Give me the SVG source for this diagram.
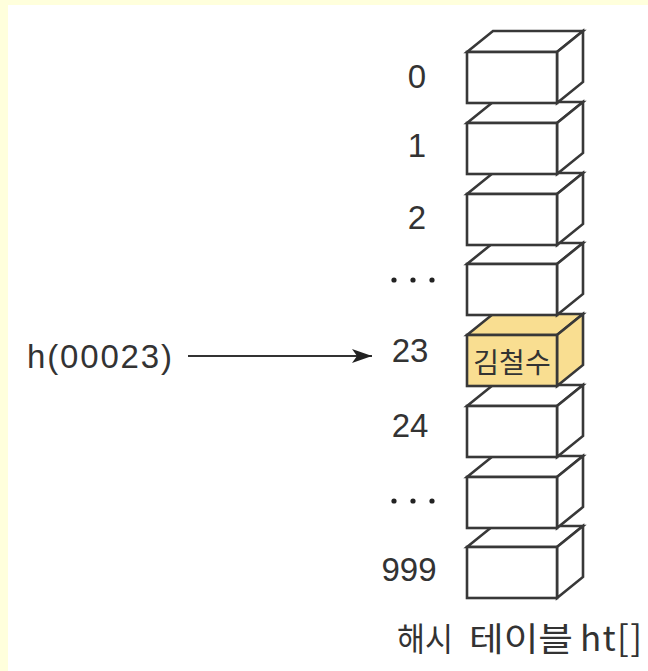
<svg xmlns="http://www.w3.org/2000/svg" width="648" height="671" viewBox="0 0 648 671">
<defs>
<style>
.face{fill:#ffffff;stroke:#383838;stroke-width:2.6;stroke-linejoin:miter}
.hl .face{fill:#f9de91}
.lbl{font-family:"Liberation Sans",Arial,sans-serif;font-size:33px;fill:#333333;text-anchor:middle}
.kr{font-family:"Noto Sans CJK KR","Noto Sans",sans-serif;fill:#333333}
.dot{fill:#222222}
</style>
<marker id="ah" markerWidth="22" markerHeight="16" refX="20" refY="7" orient="auto" markerUnits="userSpaceOnUse">
<path d="M0,0 L20,7 L0,14 L5,7 Z" fill="#222222"/>
</marker>
<g id="box">
<polygon class="face" points="0,0 26,-21 116,-21 90,0"/>
<polygon class="face" points="90,0 116,-21 116,30 90,51"/>
<rect class="face" x="0" y="0" width="90" height="51"/>
</g>
</defs>
<rect x="0" y="0" width="648" height="671" fill="#ffffff"/>
<rect x="0" y="0" width="648" height="5" fill="#ffffdc"/>
<rect x="0" y="0" width="8" height="671" fill="#ffffdc"/>

<g id="node-999"><use href="#box" x="467" y="547"/><text class="lbl" x="409" y="581">999</text></g>
<g id="node-dots2"><use href="#box" x="467" y="477"/><circle class="dot" cx="394" cy="501" r="2.6"/><circle class="dot" cx="413" cy="501" r="2.6"/><circle class="dot" cx="432" cy="501" r="2.6"/></g>
<g id="node-24"><use href="#box" x="467" y="406"/><text class="lbl" x="410" y="437">24</text></g>
<g id="node-23" class="hl"><g transform="translate(467,335)"><polygon class="face" points="0,0 26,-21 116,-21 90,0"/><polygon class="face" points="90,0 116,-21 116,30 90,51"/><rect class="face" x="0" y="0" width="90" height="51"/></g><text class="kr" x="512" y="373" font-size="28" text-anchor="middle">김철수</text><text class="lbl" x="410" y="362">23</text></g>
<g id="node-dots1"><use href="#box" x="467" y="264"/><circle class="dot" cx="394" cy="280" r="2.6"/><circle class="dot" cx="413" cy="280" r="2.6"/><circle class="dot" cx="432" cy="280" r="2.6"/></g>
<g id="node-2"><use href="#box" x="467" y="194"/><text class="lbl" x="417" y="229">2</text></g>
<g id="node-1"><use href="#box" x="467" y="123"/><text class="lbl" x="417" y="157">1</text></g>
<g id="node-0"><use href="#box" x="467" y="52"/><text class="lbl" x="417" y="88">0</text></g>

<g id="node-h"><text class="lbl" x="27" y="368" style="text-anchor:start" font-size="32" textLength="145" lengthAdjust="spacing">h(00023)</text></g>

<g id="connectors">
<line x1="188" y1="356" x2="372" y2="356" stroke="#333333" stroke-width="2" marker-end="url(#ah)"/>
</g>

<g id="caption">
<text class="kr" x="397" y="651" font-size="33" textLength="56" lengthAdjust="spacingAndGlyphs">해시</text>
<text class="kr" x="469" y="651" font-size="33" textLength="104" lengthAdjust="spacingAndGlyphs">테이블</text>
<text class="kr" x="580" y="651" font-size="35" textLength="62" lengthAdjust="spacing">ht[]</text>
</g>
</svg>
